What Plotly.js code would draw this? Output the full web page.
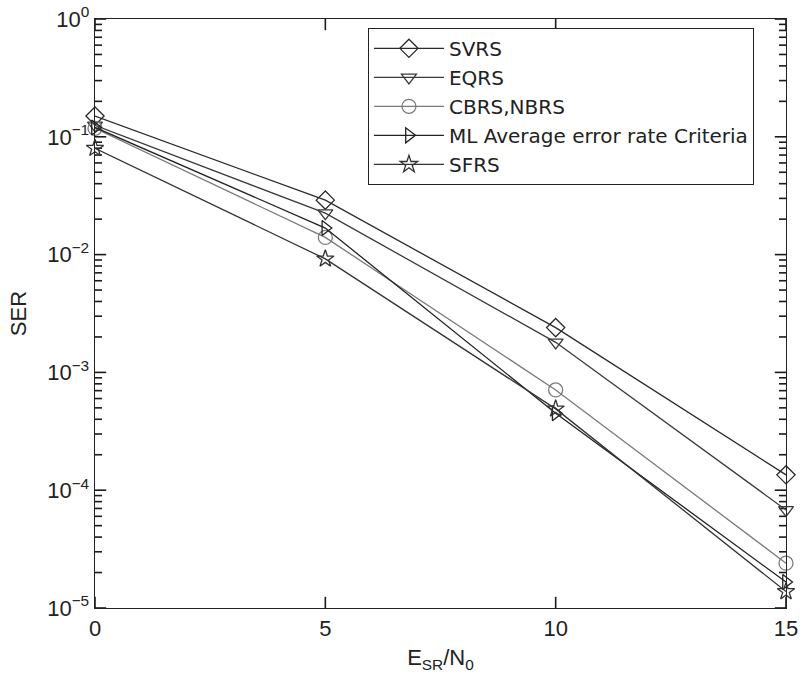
<!DOCTYPE html>
<html>
<head>
<meta charset="utf-8">
<script src="https://cdn.plot.ly/plotly-3.0.1.min.js"></script>
<style>body{margin:0;background:#fff;} #plot{width:802px;height:681px;}</style>
</head>
<body>
<div id="plot"></div>
<script>
const snr = [0, 5, 10, 15];
const svrs = [0.15, 0.029, 0.0024, 1.35e-4];
const eqrs = [0.125, 0.0225, 0.0018, 6.8e-5];
const cbrs = [0.118, 0.014, 0.00071, 2.4e-5];
const mlavg = [0.12, 0.0168, 0.00045, 1.66e-5];
const sfrs = [0.08, 0.0092, 0.00049, 1.38e-5];
const seriesNames = ["SVRS", "EQRS", "CBRS,NBRS", "ML Average error rate Criteria", "SFRS"];
const yTickVals = [1, 0.1, 0.01, 0.001, 1e-4, 1e-5];
const yTickText = ["10<sup>0</sup>", "10<sup>\u22121</sup>", "10<sup>\u22122</sup>", "10<sup>\u22123</sup>", "10<sup>\u22124</sup>", "10<sup>\u22125</sup>"];
const yMinorVals = [
  2e-5, 3e-5, 4e-5, 5e-5, 6e-5, 7e-5, 8e-5, 9e-5,
  2e-4, 3e-4, 4e-4, 5e-4, 6e-4, 7e-4, 8e-4, 9e-4,
  2e-3, 3e-3, 4e-3, 5e-3, 6e-3, 7e-3, 8e-3, 9e-3,
  2e-2, 3e-2, 4e-2, 5e-2, 6e-2, 7e-2, 8e-2, 9e-2,
  0.2, 0.3, 0.4, 0.5, 0.6, 0.7, 0.8, 0.9
];
const xTickVals = [0, 5, 10, 15];
const xRange = [0, 15];
const yRangeVals = [1e-5, 1];

const tickColor = "#1a1a1a";
const traces = [];
// tick marks drawn as clipped line markers on the axis edges (inside half visible)
function tickTrace(xs, ys, symbol, size) {
  return {x: xs, y: ys, type: "scatter", mode: "markers", cliponaxis: true,
    showlegend: false, hoverinfo: "skip",
    marker: {symbol: symbol, size: size, color: tickColor, line: {color: tickColor, width: 1.6}}};
}
[xRange[0], xRange[1]].forEach(xe => {
  traces.push(tickTrace(yTickVals.map(() => xe), yTickVals, "line-ew-open", 16));
  traces.push(tickTrace(yMinorVals.map(() => xe), yMinorVals, "line-ew-open", 10));
});
yRangeVals.forEach(ye => {
  traces.push(tickTrace(xTickVals, xTickVals.map(() => ye), "line-ns-open", 16));
});

const ys = [svrs, eqrs, cbrs, mlavg, sfrs];
const symbols = ["diamond-open", "triangle-down-open", "circle-open", "triangle-right-open", "star-open"];
const colors = ["#2a2a2a", "#3a3a3a", "#7a7a7a", "#222222", "#333333"];
const sizes = [14, 13, 14, 13, 13];

ys.forEach((y, i) => traces.push({
  x: snr, y: y, name: seriesNames[i], type: "scatter", mode: "lines+markers",
  cliponaxis: false,
  line: {color: colors[i], width: 1.3},
  marker: {symbol: symbols[i], size: sizes[i], color: colors[i], line: {color: colors[i], width: 1.3}}
}));

const font = {family: "Liberation Sans, Arial, sans-serif", size: 22, color: "#222"};
const layout = {
  width: 802, height: 681,
  margin: {l: 95, r: 16, t: 19, b: 73},
  paper_bgcolor: "#fff", plot_bgcolor: "#fff",
  font: font,
  showlegend: true,
  legend: {
    x: 0.395, y: 0.985, xanchor: "left", yanchor: "top",
    bgcolor: "#fff", bordercolor: "#222", borderwidth: 1,
    font: {family: "DejaVu Sans, sans-serif", size: 20, color: "#222"},
    itemwidth: 70,
    tracegroupgap: 0
  },
  xaxis: {
    range: xRange, tickvals: xTickVals, ticktext: xTickVals.map(String),
    ticks: "",
    showline: true, linecolor: "#222", linewidth: 1.4, mirror: true,
    showgrid: false, zeroline: false,
    tickfont: font,
    title: {text: "E<sub>SR</sub>/N<sub>0</sub>", font: font, standoff: 10}
  },
  yaxis: {
    type: "log", range: [-5, 0],
    tickvals: yTickVals, ticktext: yTickText,
    ticks: "",
    showline: true, linecolor: "#222", linewidth: 1.4, mirror: true,
    showgrid: false, zeroline: false,
    tickfont: font,
    title: {text: "SER", font: font, standoff: 14}
  }
};
Plotly.newPlot("plot", traces, layout, {displayModeBar: false, staticPlot: true});
</script>
</body>
</html>
